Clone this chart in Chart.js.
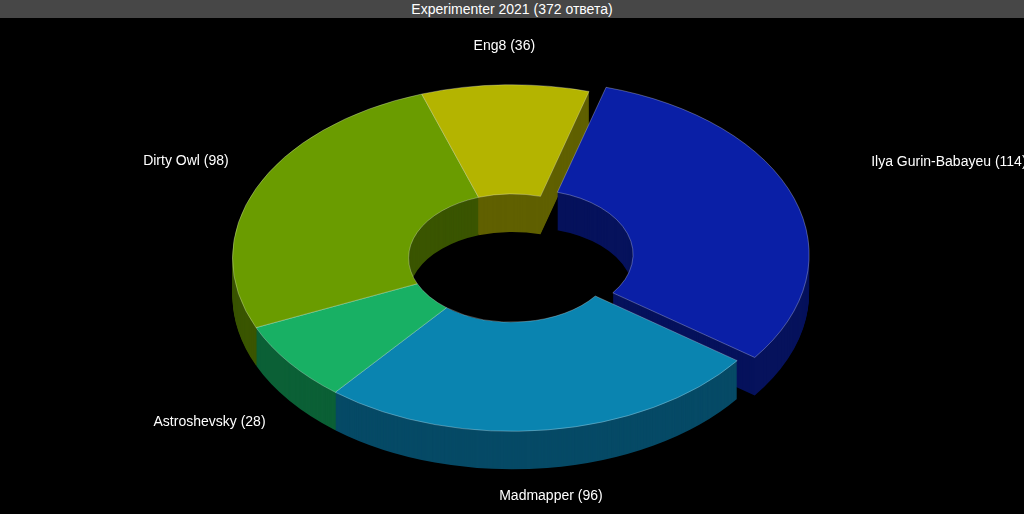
<!DOCTYPE html>
<html>
<head>
<meta charset="utf-8">
<script src="https://cdn.jsdelivr.net/npm/chart.js@4"></script>
<style>
  body { margin: 0; background: #000; width: 1024px; height: 514px; overflow: hidden; font-family: Arial, "Liberation Sans", sans-serif; }
  #title { height: 18px; line-height: 18px; background: #474747; color: #fff; text-align: center; font-size: 14px; }
  #wrap { width: 1024px; height: 630px; }
</style>
</head>
<body>
<div id="title">Experimenter 2021 (372 ответа)</div>
<div id="wrap"><canvas id="chart"></canvas></div>
<script>
// Data
var labels = ['Ilya Gurin-Babayeu', 'Madmapper', 'Astroshevsky', 'Dirty Owl', 'Eng8'];
var values = [114, 96, 28, 98, 36];
var colors = ['#0a1fa6', '#0a84b0', '#18b064', '#6a9c00', '#b4b400'];
var sideColors = ['#06125c', '#064a66', '#0b6036', '#3a5500', '#606000'];
var offsets = [70, 0, 0, 0, 0];

var SQUASH = 0.62;
var DEPTH = 38;
var CENTER_Y = 240;

function applyView(chart, ctx) {
    var meta = chart.getDatasetMeta(0);
    var cx = meta.data[0].x, cy = meta.data[0].y;
    ctx.translate(cx, CENTER_Y);
    ctx.scale(1, SQUASH);
    ctx.translate(-cx, -cy);
}

// squashes the doughnut and draws a side extrusion under it
var pie3d = {
    id: 'pie3d',
    beforeDatasetsDraw: function (chart) {
        var ctx = chart.ctx;
        var meta = chart.getDatasetMeta(0);
        ctx.save();
        for (var d = DEPTH; d > 0; d -= 1) {
            ctx.save();
            ctx.translate(0, d);
            applyView(chart, ctx);
            meta.data.forEach(function (arc, i) {
                var bg = arc.options.backgroundColor, bw = arc.options.borderWidth;
                arc.options.backgroundColor = sideColors[i];
                arc.options.borderWidth = 0;
                arc.draw(ctx);
                arc.options.backgroundColor = bg;
                arc.options.borderWidth = bw;
            });
            ctx.restore();
        }
        applyView(chart, ctx);
    },
    afterDatasetsDraw: function (chart) {
        var ctx = chart.ctx;
        ctx.restore();
        var meta = chart.getDatasetMeta(0);
        ctx.font = '14px Arial, "Liberation Sans", sans-serif';
        ctx.fillStyle = '#fff';
        ctx.textBaseline = 'middle';
        meta.data.forEach(function (arc, i) {
            var a = (arc.startAngle + arc.endAngle) / 2;
            var r = arc.outerRadius + offsets[i] + 30;
            var x = arc.x + Math.cos(a) * r;
            var y = CENTER_Y + Math.sin(a) * r * SQUASH + (Math.sin(a) > 0 ? DEPTH + 10 : -20);
            var c = Math.cos(a);
            ctx.textAlign = c > 0.25 ? 'left' : (c < -0.25 ? 'right' : 'center');
            ctx.fillText(labels[i] + ' (' + values[i] + ')', x, y);
        });
    }
};

new Chart(document.getElementById('chart'), {
    type: 'doughnut',
    data: {
        labels: labels,
        datasets: [{
            data: values,
            backgroundColor: colors,
            borderColor: 'rgba(255,255,255,0.35)',
            borderWidth: 1,
            offset: offsets
        }]
    },
    options: {
        responsive: true,
        maintainAspectRatio: false,
        animation: false,
        rotation: 16,
        cutout: '37%',
        plugins: {
            legend: { display: false },
            tooltip: { enabled: false }
        }
    },
    plugins: [pie3d]
});
</script>
</body>
</html>
